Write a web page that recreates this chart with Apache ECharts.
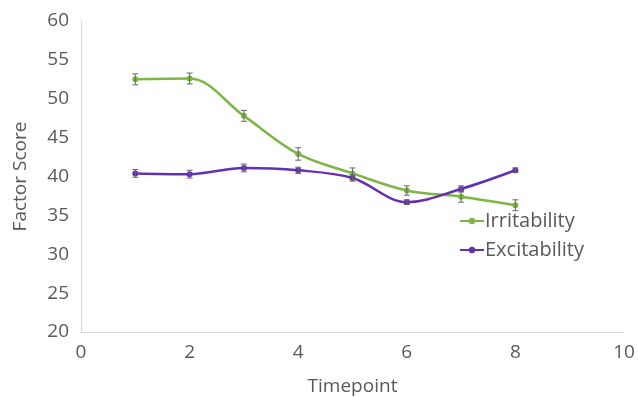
<!DOCTYPE html>
<html><head><meta charset="utf-8">
<script src="https://cdn.jsdelivr.net/npm/echarts@6/dist/echarts.min.js"></script>
<style>html,body{margin:0;padding:0;background:#fff}#c{width:638px;height:397px}</style>
</head><body><div id="c"></div>
<script>
const timepoints = [1, 2, 3, 4, 5, 6, 7, 8];
const irritability = [52.5, 52.6, 47.8, 42.9, 40.4, 38.2, 37.4, 36.3];
const irritabilityErr = [0.7, 0.7, 0.7, 0.8, 0.7, 0.6, 0.7, 0.7];
const excitability = [40.4, 40.3, 41.1, 40.8, 39.8, 36.7, 38.4, 40.8];
const excitabilityErr = [0.5, 0.5, 0.5, 0.4, 0.4, 0.3, 0.4, 0.3];
const xTicks = [0, 2, 4, 6, 8, 10];
const yTicks = [20, 25, 30, 35, 40, 45, 50, 55, 60];

const GREEN = '#7DB646', PURPLE = '#6530B0';
const font = 'Open Sans, Noto Sans, sans-serif';

function errData(vals, errs){ return timepoints.map((t,i)=>[t, vals[i]-errs[i], vals[i]+errs[i]]); }
function errRender(params, api){
  const lo = api.coord([api.value(0), api.value(1)]);
  const hi = api.coord([api.value(0), api.value(2)]);
  const w = 3;
  const st = {stroke:'#666', lineWidth:1};
  return {type:'group', children:[
    {type:'line', shape:{x1:lo[0],y1:lo[1],x2:hi[0],y2:hi[1]}, style:st},
    {type:'line', shape:{x1:lo[0]-w,y1:lo[1],x2:lo[0]+w,y2:lo[1]}, style:st},
    {type:'line', shape:{x1:hi[0]-w,y1:hi[1],x2:hi[0]+w,y2:hi[1]}, style:st}
  ]};
}

const chart = echarts.init(document.getElementById('c'));
chart.setOption({
  animation:false,
  grid:{left:81, right:14, top:21, bottom:65, containLabel:false, outerBoundsMode:'none'},
  xAxis:{type:'value', min:xTicks[0], max:xTicks[xTicks.length-1], interval:2,
    name:'Timepoint', nameLocation:'middle', nameGap:45,
    nameTextStyle:{fontFamily:font, fontSize:19, color:'#595959'},
    axisLine:{lineStyle:{color:'#d9d9d9'}}, axisTick:{show:false}, splitLine:{show:false},
    axisLabel:{fontFamily:font, fontSize:19, color:'#595959', margin:11}},
  yAxis:{type:'value', min:yTicks[0], max:yTicks[yTicks.length-1], interval:5,
    name:'Factor Score', nameLocation:'middle', nameGap:51,
    nameTextStyle:{fontFamily:font, fontSize:19, color:'#595959'},
    axisLine:{show:true, lineStyle:{color:'#d9d9d9'}}, axisTick:{show:false}, splitLine:{show:false},
    axisLabel:{fontFamily:font, fontSize:19, color:'#595959', margin:12}},
  legend:{orient:'vertical', left:454, top:206, itemGap:9, itemWidth:24, itemHeight:8,
    textStyle:{fontFamily:font, fontSize:20, color:'#595959', padding:[0,0,0,-4]},
    data:['Irritability','Excitability']},
  series:[
    {name:'Irritability', type:'line', smooth:0.35, data:timepoints.map((t,i)=>[t,irritability[i]]),
      symbol:'circle', symbolSize:6, itemStyle:{color:GREEN}, lineStyle:{width:2.5, color:GREEN}, z:3},
    {name:'Excitability', type:'line', smooth:0.35, data:timepoints.map((t,i)=>[t,excitability[i]]),
      symbol:'circle', symbolSize:6, itemStyle:{color:PURPLE}, lineStyle:{width:2.5, color:PURPLE}, z:3},
    {type:'custom', renderItem:errRender, data:errData(irritability, irritabilityErr), z:4, silent:true},
    {type:'custom', renderItem:errRender, data:errData(excitability, excitabilityErr), z:4, silent:true}
  ]
});
</script></body></html>
